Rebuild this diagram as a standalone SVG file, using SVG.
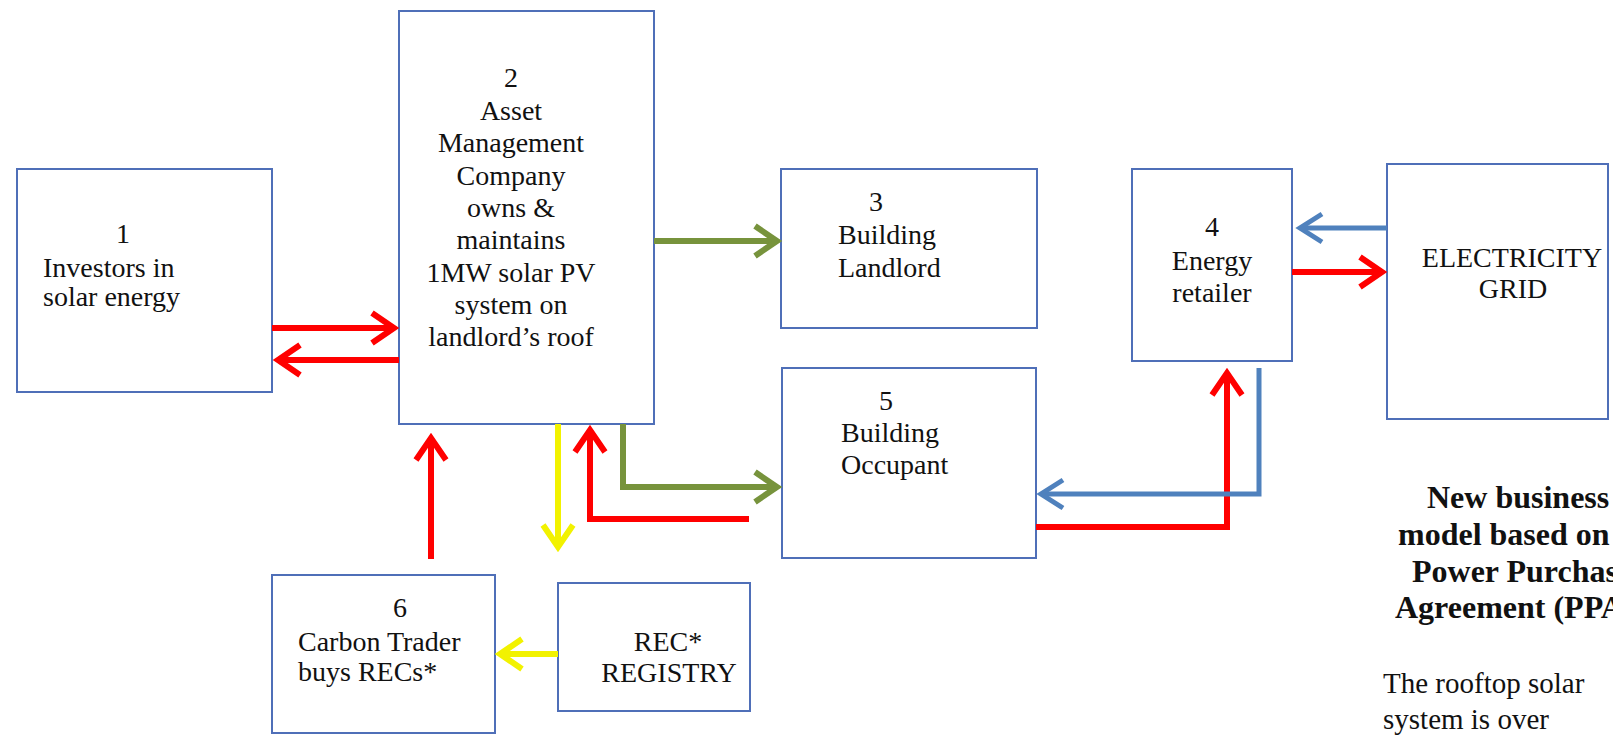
<svg xmlns="http://www.w3.org/2000/svg" width="1613" height="735" viewBox="0 0 1613 735">
<style>
.box{fill:#ffffff;stroke:#4f6fb8;stroke-width:2}
text{font-family:"Liberation Serif","Times New Roman",serif;font-size:28px;fill:#111}
.c{text-anchor:middle}
.b{font-weight:bold;font-size:32px}
.red{stroke:#ff0000;stroke-width:6;fill:none}
.grn{stroke:#77933c;stroke-width:6;fill:none}
.yel{stroke:#f2f200;stroke-width:6;fill:none}
.blu{stroke:#4f81bd;stroke-width:5;fill:none}
</style>
<defs>
<marker id="ar" markerUnits="userSpaceOnUse" viewBox="-30 -20 40 40" markerWidth="40" markerHeight="40" refX="0" refY="0" orient="auto" overflow="visible"><path d="M-22,-15 L0,0 L-22,15" fill="none" stroke="#ff0000" stroke-width="6"/></marker>
<marker id="ag" markerUnits="userSpaceOnUse" viewBox="-30 -20 40 40" markerWidth="40" markerHeight="40" refX="0" refY="0" orient="auto" overflow="visible"><path d="M-22,-15 L0,0 L-22,15" fill="none" stroke="#77933c" stroke-width="6"/></marker>
<marker id="ay" markerUnits="userSpaceOnUse" viewBox="-30 -20 40 40" markerWidth="40" markerHeight="40" refX="0" refY="0" orient="auto" overflow="visible"><path d="M-22,-15 L0,0 L-22,15" fill="none" stroke="#f2f200" stroke-width="6"/></marker>
<marker id="ab" markerUnits="userSpaceOnUse" viewBox="-30 -20 40 40" markerWidth="40" markerHeight="40" refX="0" refY="0" orient="auto" overflow="visible"><path d="M-22,-14 L0,0 L-22,14" fill="none" stroke="#4f81bd" stroke-width="5"/></marker>
</defs>
<rect width="1613" height="735" fill="#ffffff"/>

<g id="node1">
<rect class="box" x="17" y="169" width="255" height="223"/>
<text class="c" x="123" y="243">1</text>
<text x="43" y="277">Investors in</text>
<text x="43" y="306">solar energy</text>
</g>

<g id="node2">
<rect class="box" x="399" y="11" width="255" height="413"/>
<text class="c" x="511" y="87">2</text>
<text class="c" x="511" y="120">Asset</text>
<text class="c" x="511" y="152">Management</text>
<text class="c" x="511" y="185">Company</text>
<text class="c" x="511" y="217">owns &amp;</text>
<text class="c" x="511" y="249">maintains</text>
<text class="c" x="511" y="282">1MW solar PV</text>
<text class="c" x="511" y="314">system on</text>
<text class="c" x="511" y="346">landlord’s roof</text>
</g>

<g id="node3">
<rect class="box" x="781" y="169" width="256" height="159"/>
<text class="c" x="876" y="211">3</text>
<text x="838" y="244">Building</text>
<text x="838" y="277">Landlord</text>
</g>

<g id="node4">
<rect class="box" x="1132" y="169" width="160" height="192"/>
<text class="c" x="1212" y="236">4</text>
<text class="c" x="1212" y="270">Energy</text>
<text class="c" x="1212" y="302">retailer</text>
</g>

<g id="grid">
<rect class="box" x="1387" y="164" width="221" height="255"/>
<text class="c" x="1512" y="267">ELECTRICITY</text>
<text class="c" x="1513" y="298">GRID</text>
</g>

<g id="node5">
<rect class="box" x="782" y="368" width="254" height="190"/>
<text class="c" x="886" y="410">5</text>
<text x="841" y="442">Building</text>
<text x="841" y="474">Occupant</text>
</g>

<g id="node6">
<rect class="box" x="272" y="575" width="223" height="158"/>
<text class="c" x="400" y="617">6</text>
<text x="298" y="651">Carbon Trader</text>
<text x="298" y="681">buys RECs*</text>
</g>

<g id="registry">
<rect class="box" x="558" y="583" width="192" height="128"/>
<text class="c" x="668" y="651">REC*</text>
<text class="c" x="669" y="682">REGISTRY</text>
</g>

<g id="connectors">
<path class="red" d="M272,328 H394" marker-end="url(#ar)"/>
<path class="red" d="M399,360 H278" marker-end="url(#ar)"/>
<path class="grn" d="M654,241 H777" marker-end="url(#ag)"/>
<path class="grn" d="M623,424 V487 H777" marker-end="url(#ag)"/>
<path class="yel" d="M558,424 V547" marker-end="url(#ay)"/>
<path class="red" d="M749,519 H590 V430" marker-end="url(#ar)"/>
<path class="red" d="M431,559 V438" marker-end="url(#ar)"/>
<path class="yel" d="M558,654 H500" marker-end="url(#ay)"/>
<path class="blu" d="M1387,228 H1300" marker-end="url(#ab)"/>
<path class="red" d="M1292,272 H1382" marker-end="url(#ar)"/>
<path class="red" d="M1036,527 H1227 V373" marker-end="url(#ar)"/>
<path class="blu" d="M1259,368 V494 H1041" marker-end="url(#ab)"/>
</g>

<g id="caption">
<text class="b" x="1427" y="508">New business</text>
<text class="b" x="1398" y="545">model based on</text>
<text class="b" x="1412" y="582">Power Purchase</text>
<text class="b" x="1395" y="618">Agreement (PPA)</text>
<text x="1383" y="693" style="font-size:29px">The rooftop solar</text>
<text x="1383" y="729" style="font-size:29px">system is over</text>
</g>
</svg>
